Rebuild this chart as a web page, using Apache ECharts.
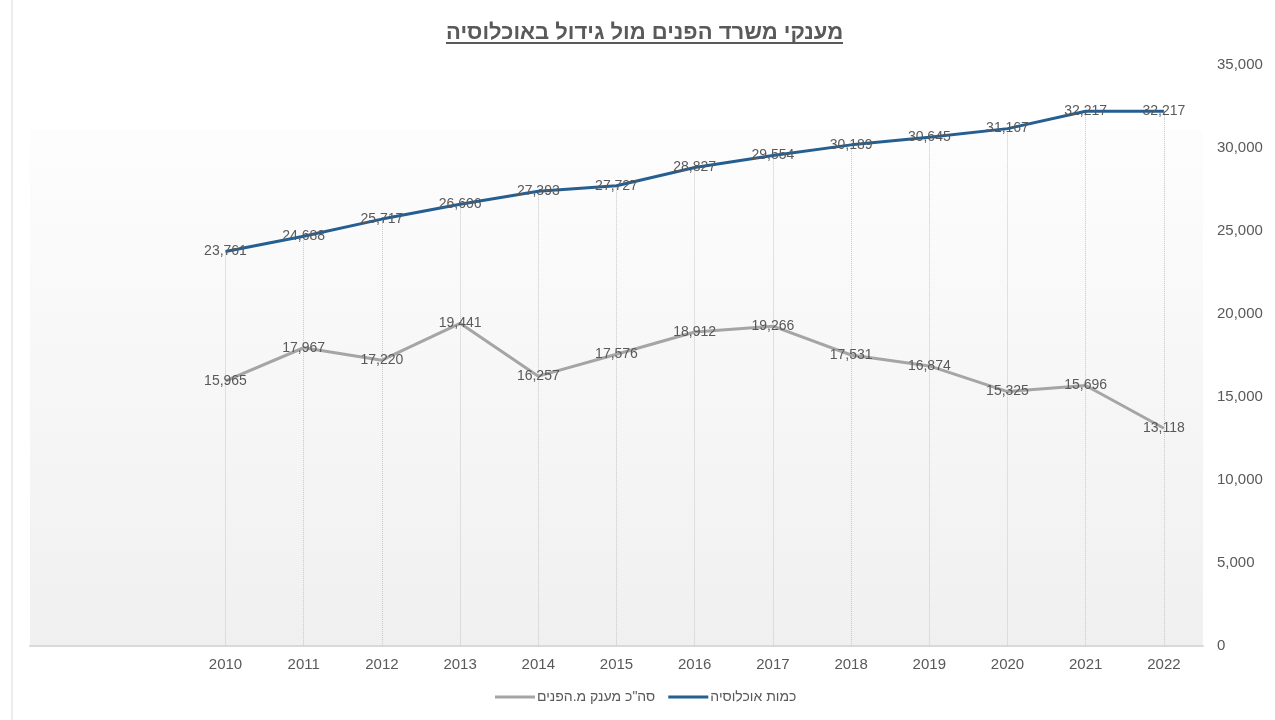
<!DOCTYPE html>
<html><head><meta charset="utf-8">
<script src="https://cdn.jsdelivr.net/npm/echarts@6/dist/echarts.min.js"></script>
<style>html,body{margin:0;padding:0;background:#fff}#c{width:1275px;height:720px}</style>
</head><body><div id="c"></div>
<script>
const padCats = [' ', '  '];
const years = ['2010','2011','2012','2013','2014','2015','2016','2017','2018','2019','2020','2021','2022'];
const population = [23761, 24688, 25717, 26606, 27393, 27727, 28827, 29554, 30189, 30645, 31167, 32217, 32217];
const grants = [15965, 17967, 17220, 19441, 16257, 17576, 18912, 19266, 17531, 16874, 15325, 15696, 13118];
const titleText = 'מענקי משרד הפנים מול גידול באוכלוסיה';
const nameGrants = 'סה"כ מענק מ.הפנים';
const namePop = 'כמות אוכלוסיה';

const chart = echarts.init(document.getElementById('c'));
const font = 'Liberation Sans, Arial, sans-serif';
const labelCfg = {show: true, position: 'inside', color: '#595959', fontSize: 14, fontFamily: font,
  formatter: p => Number(p.value[1]).toLocaleString('en-US')};
chart.setOption({
  animation: false,
  title: {text: titleText, left: 441, top: 17,
    textStyle: {fontSize: 22, fontWeight: 'bold', color: '#595959', fontFamily: font}},
  graphic: [
    {type: 'rect', left: 30, top: 130, shape: {width: 1173, height: 515}, z: -10,
      style: {fill: new echarts.graphic.LinearGradient(0, 0, 0, 1, [{offset: 0, color: '#fdfdfd'}, {offset: 1, color: '#f0f0f0'}])}},
    {type: 'line', shape: {x1: 446, y1: 43, x2: 843, y2: 43}, style: {stroke: '#595959', lineWidth: 2}},
    {type: 'line', shape: {x1: 12, y1: 0, x2: 12, y2: 720}, style: {stroke: '#d9d9d9', lineWidth: 1}}
  ],
  legend: {bottom: 11, left: 490, itemWidth: 40, itemHeight: 3, itemGap: 13,
    icon: 'rect', textStyle: {color: '#595959', fontSize: 14, fontFamily: font, padding: [0, 0, 0, -3]},
    data: [nameGrants, namePop]},
  grid: {left: 30, right: 72, top: 65, bottom: 74},
  xAxis: {type: 'category', data: padCats.concat(years), boundaryGap: true,
    axisLine: {lineStyle: {color: '#d9d9d9', width: 2}}, axisTick: {show: false},
    axisLabel: {color: '#595959', fontSize: 15, fontFamily: font, margin: 11, interval: 0}},
  yAxis: {type: 'value', position: 'right', min: 0, max: 35000, interval: 5000,
    splitLine: {show: false}, axisLine: {show: false}, axisTick: {show: false},
    axisLabel: {color: '#595959', fontSize: 15, fontFamily: font, margin: 14,
      formatter: v => v.toLocaleString('en-US')}},
  series: [
    {name: nameGrants, type: 'line', data: years.map((y, i) => [y, grants[i]]),
      symbol: 'circle', symbolSize: 0.1, showAllSymbol: true,
      lineStyle: {color: '#a5a5a5', width: 3}, itemStyle: {color: '#a5a5a5'},
      label: labelCfg, z: 3},
    {name: namePop, type: 'line', data: years.map((y, i) => [y, population[i]]),
      symbol: 'circle', symbolSize: 0.1, showAllSymbol: true,
      lineStyle: {color: '#255e91', width: 3}, itemStyle: {color: '#255e91'},
      label: labelCfg, z: 4,
      markLine: {silent: true, symbol: 'none', label: {show: false}, z: 1,
        lineStyle: {color: '#c8c8c8', width: 1, type: 'dotted'},
        data: years.map((y, i) => [{coord: [y, population[i]]}, {coord: [y, 0]}])}}
  ]
});
</script></body></html>
